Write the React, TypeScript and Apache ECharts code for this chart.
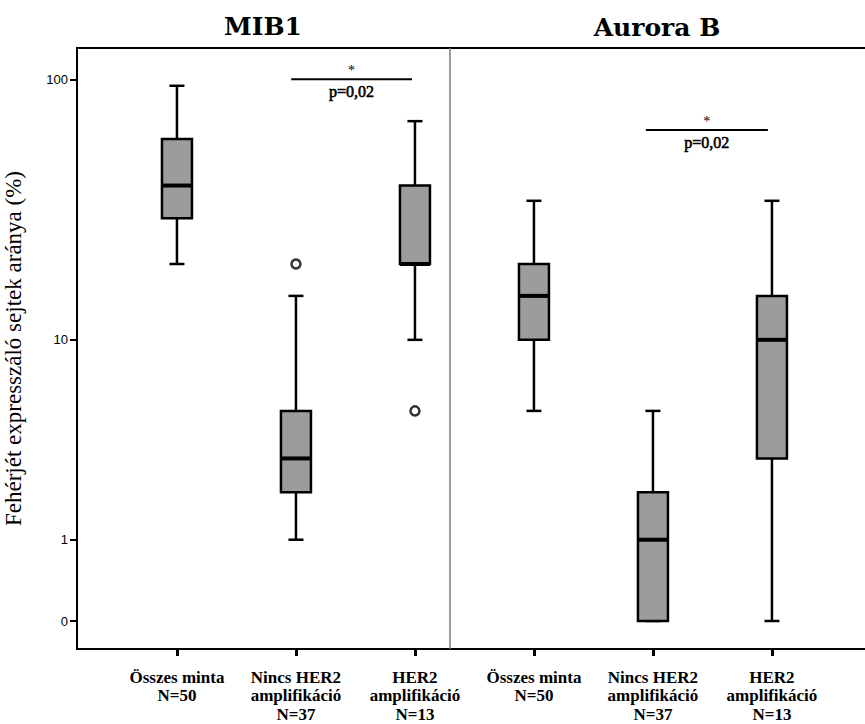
import React, { useEffect, useRef } from "react";
import * as echarts from "echarts";

// ---- data ----
const categories = [
  "Összes minta\nN=50",
  "Nincs HER2\namplifikáció\nN=37",
  "HER2\namplifikáció\nN=13",
  "Összes minta\nN=50",
  "Nincs HER2\namplifikáció\nN=37",
  "HER2\namplifikáció\nN=13",
];
const categoryPositions = [1, 2, 3, 4, 5, 6];
const panelTitles = ["MIB1", "Aurora B"];
// [min, Q1, median, Q3, max] in %
const mib1Boxes = [
  [20, 30, 40, 60, 95],
  [1, 2, 3, 5, 15],
  [10, 20, 20, 40, 70],
];
const auroraBoxes = [
  [5, 10, 15, 20, 35],
  [0, 0, 1, 2, 5],
  [0, 3, 10, 15, 35],
];
// [category position, value]
const outlierPoints = [
  [2, 20],
  [3, 5],
];
const yTickValues = [0, 1, 10, 100];
// [x from, x to, level (%)]
const sigBrackets = [
  [1.96, 2.975, 100.6],
  [4.94, 5.966, 64.8],
];
const sigStars = ["*", "*"];
const sigLabels = ["p=0,02", "p=0,02"];
const panelDividerX = 3.294;
const yAxisTitle = "Fehérjét expresszáló sejtek aránya (%)";

// log(x+1) transform used by the plot's axis
const tf = (v: number) => Math.log10(v + 1);

export default function App() {
  const ref = useRef<HTMLDivElement>(null);
  useEffect(() => {
    if (!ref.current) return;
    const chart = echarts.init(ref.current, undefined, { renderer: "svg" });
    const allBoxes = [...mib1Boxes, ...auroraBoxes];
    const boxData = allBoxes.map((b, i) => [categoryPositions[i], ...b.map(tf)]);
    const serif = "Liberation Serif";
    const serifBold = "DejaVu Serif";
    const sans = "Arial";

    const option: any = {
      animation: false,
      backgroundColor: "#fff",
      grid: {
        left: 77,
        top: 48,
        width: 798,
        height: 601,
        show: true,
        borderColor: "#000",
        borderWidth: 2,
        backgroundColor: "transparent",
        containLabel: false,
        outerBoundsMode: "none",
      },
      xAxis: {
        type: "value",
        min: 0.16,
        max: 6.866,
        splitLine: { show: false },
        axisLine: { show: true, onZero: false, lineStyle: { color: "#000", width: 2 } },
        axisTick: {
          show: true,
          customValues: categoryPositions,
          length: 7,
          lineStyle: { color: "#000", width: 3 },
        },
        axisLabel: {
          customValues: categoryPositions,
          formatter: (v: number) => categories[Math.round(v) - 1] ?? "",
          fontFamily: serif,
          fontWeight: "bold",
          fontSize: 17,
          lineHeight: 18.5,
          color: "#000",
          margin: 19,
        },
      },
      yAxis: {
        type: "value",
        min: -0.1037,
        max: 2.1222,
        splitLine: { show: false },
        axisLine: { show: true, onZero: false, lineStyle: { color: "#000", width: 2 } },
        axisTick: {
          show: true,
          customValues: yTickValues.map(tf),
          length: 7,
          lineStyle: { color: "#000", width: 2 },
        },
        axisLabel: {
          customValues: yTickValues.map(tf),
          formatter: (t: number) => String(Math.round(Math.pow(10, t) - 1)),
          fontFamily: sans,
          fontSize: 13,
          color: "#000",
          margin: 9,
        },
        name: yAxisTitle,
        nameLocation: "middle",
        nameGap: 52,
        nameTextStyle: { fontFamily: serif, fontSize: 23, color: "#000" },
      },
      graphic: [
        {
          type: "text",
          x: 263,
          y: 26,
          style: {
            text: panelTitles[0],
            fontFamily: serifBold,
            fontWeight: "bold",
            fontSize: 25,
            fill: "#000",
            textAlign: "center",
            textVerticalAlign: "middle",
          },
        },
        {
          type: "text",
          x: 657,
          y: 27,
          style: {
            text: panelTitles[1],
            fontFamily: serifBold,
            fontWeight: "bold",
            fontSize: 25,
            fill: "#000",
            textAlign: "center",
            textVerticalAlign: "middle",
          },
        },
      ],
      series: [
        {
          type: "custom",
          data: boxData,
          encode: { x: 0, y: [1, 2, 3, 4, 5] },
          renderItem: (params: any, api: any) => {
            const x = api.value(0);
            const [pMin, pQ1, pMed, pQ3, pMax] = [1, 2, 3, 4, 5].map((d) => api.coord([x, api.value(d)]));
            const cx = pMin[0];
            const hw = 15;
            const cap = 7.5;
            const ls = { stroke: "#000", lineWidth: 2.5 };
            return {
              type: "group",
              children: [
                { type: "line", shape: { x1: cx, y1: pMax[1], x2: cx, y2: pQ3[1] }, style: ls },
                { type: "line", shape: { x1: cx, y1: pQ1[1], x2: cx, y2: pMin[1] }, style: ls },
                { type: "line", shape: { x1: cx - cap, y1: pMax[1], x2: cx + cap, y2: pMax[1] }, style: ls },
                { type: "line", shape: { x1: cx - cap, y1: pMin[1], x2: cx + cap, y2: pMin[1] }, style: ls },
                {
                  type: "rect",
                  shape: { x: cx - hw, y: pQ3[1], width: 2 * hw, height: pQ1[1] - pQ3[1] },
                  style: { fill: "#9c9c9c", stroke: "#000", lineWidth: 2.5 },
                },
                { type: "line", shape: { x1: cx - hw, y1: pMed[1], x2: cx + hw, y2: pMed[1] }, style: { stroke: "#000", lineWidth: 4 } },
              ],
            };
          },
          z: 3,
        },
        {
          type: "scatter",
          data: outlierPoints.map((p) => [p[0], tf(p[1])]),
          symbol: "circle",
          symbolSize: 9,
          itemStyle: { color: "#fff", borderColor: "#000", borderWidth: 2.5 },
          z: 4,
          markLine: {
            silent: true,
            symbol: "none",
            label: { show: false },
            lineStyle: { color: "#7a7a7a", width: 1.5, type: "solid" },
            data: [{ xAxis: panelDividerX }],
          },
        },
        {
          type: "custom",
          data: sigBrackets.map((b) => [b[0], b[1], tf(b[2])]),
          encode: { x: [0, 1], y: 2 },
          renderItem: (params: any, api: any) => {
            const p1 = api.coord([api.value(0), api.value(2)]);
            const p2 = api.coord([api.value(1), api.value(2)]);
            const mx = (p1[0] + p2[0]) / 2;
            return {
              type: "group",
              children: [
                { type: "line", shape: { x1: p1[0], y1: p1[1], x2: p2[0], y2: p2[1] }, style: { stroke: "#000", lineWidth: 2 } },
                {
                  type: "text",
                  x: mx,
                  y: p1[1] - 9,
                  style: {
                    text: sigStars[params.dataIndex],
                    fontFamily: serif,
                    fontSize: 14,
                    fill: "#000",
                    textAlign: "center",
                    textVerticalAlign: "middle",
                  },
                },
                {
                  type: "text",
                  x: mx,
                  y: p1[1] + 12,
                  style: {
                    text: sigLabels[params.dataIndex],
                    fontFamily: serif,
                    fontSize: 16,
                    fill: "#000",
                    stroke: "#000",
                    lineWidth: 0.6,
                    textAlign: "center",
                    textVerticalAlign: "middle",
                  },
                },
              ],
            };
          },
          z: 5,
        },
      ],
    };
    chart.setOption(option);
    return () => chart.dispose();
  }, []);
  return (
    <div
      ref={ref}
      style={{ position: "absolute", left: 0, top: 0, width: 865, height: 724, background: "#fff" }}
    />
  );
}
